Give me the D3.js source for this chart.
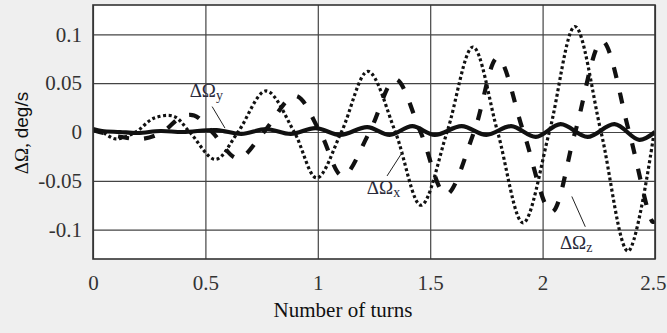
<!DOCTYPE html>
<html>
<head>
<meta charset="utf-8">
<script src="https://cdn.jsdelivr.net/npm/d3@7"></script>
<style>
  html, body { margin: 0; padding: 0; background: #efefef; }
  svg { display: block; }
</style>
</head>
<body>
<svg id="chart"></svg>
<script>
// ---- data (turns, deg/s) ----
const xTicks = [0, 0.5, 1, 1.5, 2, 2.5];
const yTicks = [0.1, 0.05, 0, -0.05, -0.1];
const yTickLabels = ['0.1', '0.05', '0', '-0.05', '-0.1'];
const xTickLabels = ['0', '0.5', '1', '1.5', '2', '2.5'];

// ΔΩx - dotted
const omegaX = [
  [0, 0.002], [0.04, 0], [0.1, -0.007], [0.19, 0], [0.27, 0.014], [0.36, 0.016],
  [0.43, 0], [0.545, -0.028], [0.645, 0], [0.77, 0.042], [0.895, 0], [0.995, -0.047],
  [1.105, 0], [1.223, 0.062], [1.345, 0], [1.459, -0.075], [1.575, 0], [1.69, 0.087],
  [1.8, 0], [1.913, -0.093], [2.03, 0], [2.144, 0.108], [2.26, 0], [2.38, -0.122],
  [2.495, -0.002]
];

// ΔΩz - dashed
const omegaZ = [
  [0, 0.002], [0.1, -0.004], [0.22, -0.007], [0.31, 0], [0.39, 0.015], [0.45, 0.017],
  [0.53, 0], [0.645, -0.027], [0.76, 0], [0.9, 0.037], [1.01, 0], [1.11, -0.045],
  [1.23, 0], [1.345, 0.054], [1.457, 0], [1.57, -0.064], [1.695, 0], [1.8, 0.076],
  [1.915, 0], [2.04, -0.082], [2.145, 0], [2.265, 0.093], [2.385, 0], [2.49, -0.092],
  [2.5, -0.091]
];

// ΔΩy - solid
const omegaY = [
  [0, 0.003], [0.04, 0.001], [0.12, 0], [0.2, -0.001], [0.3, 0.001], [0.4, 0],
  [0.55, 0.002], [0.66, -0.002], [0.77, 0.003], [0.88, -0.002], [0.99, 0.004],
  [1.1, -0.003], [1.22, 0.005], [1.32, -0.003], [1.42, 0.006], [1.52, -0.003],
  [1.64, 0.006], [1.75, -0.003], [1.86, 0.006], [1.97, -0.005], [2.08, 0.008],
  [2.2, -0.005], [2.32, 0.008], [2.43, -0.008], [2.5, 0]
];

// label anchors: [label, subscript, x(turns), y(deg/s)] and leader lines
const labels = [
  { base: 'ΔΩ', sub: 'y', at: [0.43, 0.036], line: [[0.53, 0.026], [0.587, 0.004]] },
  { base: 'ΔΩ', sub: 'x', at: [1.218, -0.063], line: [[1.308, -0.045], [1.378, -0.02]] },
  { base: 'ΔΩ', sub: 'z', at: [2.077, -0.12], line: [[2.13, -0.066], [2.19, -0.097]] }
];

const W = 667, H = 333;
const margin = { top: 5, right: 12, bottom: 74, left: 93 };
const width = W - margin.left - margin.right;
const height = H - margin.top - margin.bottom;

const svg = d3.select('#chart').attr('width', W).attr('height', H);

const x = d3.scaleLinear().domain([0, 2.5]).range([0, width]);
const y = d3.scaleLinear().domain([-0.13, 0.13]).range([height, 0]);

const g = svg.append('g').attr('transform', `translate(${margin.left},${margin.top})`);

g.append('rect').attr('width', width).attr('height', height).attr('fill', '#fff');

g.append('clipPath').attr('id', 'clip')
  .append('rect').attr('width', width).attr('height', height);

// grid
g.append('g').attr('class', 'grid-x')
  .attr('transform', `translate(0,${height})`)
  .call(d3.axisBottom(x).tickValues(xTicks).tickSize(-height).tickFormat(''))
  .call(s => s.select('.domain').remove())
  .selectAll('line').attr('stroke', '#444').attr('stroke-width', 1.2);

g.append('g').attr('class', 'grid-y')
  .call(d3.axisLeft(y).tickValues(yTicks).tickSize(-width).tickFormat(''))
  .call(s => s.select('.domain').remove())
  .selectAll('line').attr('stroke', '#444').attr('stroke-width', 1.2);

// tick labels
const xAxis = g.append('g')
  .attr('transform', `translate(0,${height})`)
  .call(d3.axisBottom(x).tickValues(xTicks).tickSize(0).tickPadding(16)
    .tickFormat((d, i) => xTickLabels[i]));
xAxis.select('.domain').remove();
xAxis.selectAll('text')
  .attr('font-family', '"Liberation Serif", "Times New Roman", serif')
  .attr('font-size', 21).attr('fill', '#333');
// last label sits against the right edge in the original
xAxis.selectAll('text').filter(d => d === 2.5)
  .attr('text-anchor', 'end').attr('dx', 11);

const yAxis = g.append('g')
  .call(d3.axisLeft(y).tickValues(yTicks).tickSize(0).tickPadding(11)
    .tickFormat((d, i) => yTickLabels[i]));
yAxis.select('.domain').remove();
yAxis.selectAll('text')
  .attr('font-family', '"Liberation Serif", "Times New Roman", serif')
  .attr('font-size', 21).attr('fill', '#333');

// curves
const line = d3.line()
  .x(d => x(d[0]))
  .y(d => y(d[1]))
  .curve(d3.curveCatmullRom.alpha(0.5));

const plot = g.append('g').attr('clip-path', 'url(#clip)');

plot.append('path').datum(omegaX)
  .attr('d', line).attr('fill', 'none')
  .attr('stroke', '#111').attr('stroke-width', 3.2)
  .attr('stroke-dasharray', '3,2.6');

plot.append('path').datum(omegaZ)
  .attr('d', line).attr('fill', 'none')
  .attr('stroke', '#111').attr('stroke-width', 4.2)
  .attr('stroke-dasharray', '11,15');

plot.append('path').datum(omegaY)
  .attr('d', line).attr('fill', 'none')
  .attr('stroke', '#111').attr('stroke-width', 4.2);

// plot border
g.append('rect').attr('width', width).attr('height', height)
  .attr('fill', 'none').attr('stroke', '#333').attr('stroke-width', 1.6);

// series labels
labels.forEach(l => {
  g.append('line')
    .attr('x1', x(l.line[0][0])).attr('y1', y(l.line[0][1]))
    .attr('x2', x(l.line[1][0])).attr('y2', y(l.line[1][1]))
    .attr('stroke', '#222').attr('stroke-width', 1);
  const t = g.append('text')
    .attr('x', x(l.at[0])).attr('y', y(l.at[1]))
    .attr('font-family', '"Liberation Serif", "Times New Roman", serif')
    .attr('font-size', 19).attr('fill', '#2a2a3a');
  t.append('tspan').text(l.base);
  t.append('tspan').attr('font-size', 14).attr('dy', 3).text(l.sub);
});

// axis titles
svg.append('text')
  .attr('x', margin.left + 250).attr('y', 317)
  .attr('text-anchor', 'middle')
  .attr('font-family', '"Liberation Serif", "Times New Roman", serif')
  .attr('font-size', 21).attr('fill', '#111')
  .text('Number of turns');

const yt = svg.append('text')
  .attr('transform', 'translate(28,133) rotate(-90)')
  .attr('text-anchor', 'middle')
  .attr('font-size', 19).attr('fill', '#111');
yt.append('tspan')
  .attr('font-family', '"Liberation Serif", "Times New Roman", serif')
  .text('ΔΩ, ');
yt.append('tspan')
  .attr('font-family', '"Liberation Sans", Arial, sans-serif')
  .text('deg/s');
</script>
</body>
</html>
